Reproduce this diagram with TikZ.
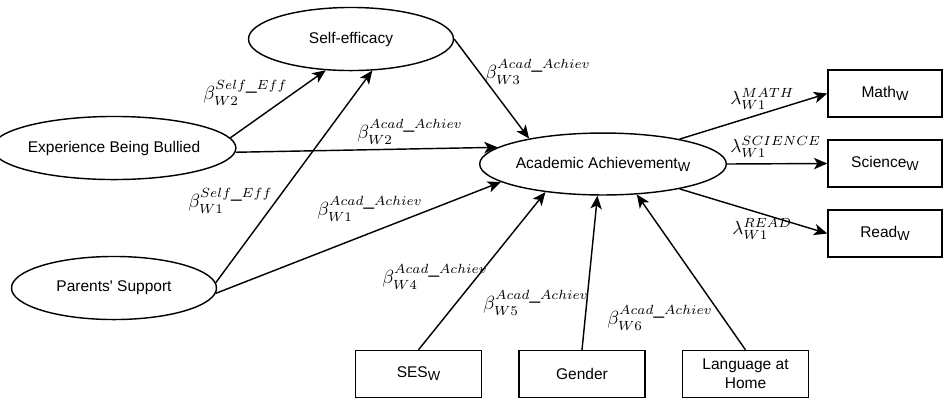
\documentclass[tikz,border=0pt]{standalone}
\usepackage[no-math]{fontspec}
\setmainfont{Liberation Sans}
\usetikzlibrary{arrows.meta,shapes.geometric}
\newcommand{\subW}{\raisebox{-0.35ex}{\fontsize{6.9}{8}\selectfont W}}
\begin{document}
\begin{tikzpicture}[x=0.5263pt,y=-0.5263pt,
  lat/.style={draw, ellipse, line width=0.75pt, minimum width=107.9pt, minimum height=33.2pt, inner sep=0pt, font=\fontsize{8.16}{9.8}\selectfont},
  obs/.style={draw, rectangle, line width=0.75pt, minimum width=66.3pt, minimum height=24.7pt, inner sep=0pt, align=center, font=\fontsize{8.16}{9.8}\selectfont},
  ind/.style={obs, minimum width=60pt},
  conn/.style={line width=0.75pt, -{Stealth[length=7pt,width=6pt,inset=1.8pt]}},
  lab/.style={inner sep=0pt, anchor=west, font=\normalsize}
]
\fill[white] (0,0) rectangle (944,400);
\useasboundingbox (0,0) rectangle (944,400);

\node[lat] (se) at (351,39) {Self-efficacy};
\node[lat] (exp) at (114,148) {Experience Being Bullied};
\node[lat] (par) at (114,288) {Parents\textquotesingle\ Support};
\node[lat, minimum width=107.4pt, minimum height=32.6pt] (aa) at (603,164) {Academic Achievement\subW};

\node[ind] (math) at (885,93.5) {Math\subW};
\node[ind] (sci) at (885,163.5) {Science\subW};
\node[ind] (read) at (885,233.5) {Read\subW};

\node[obs] (ses) at (418.5,374) {SES\subW};
\node[obs] (gen) at (582,374) {Gender};
\node[obs] (lang) at (745.5,374) {Language at\\Home};

\draw[conn] (exp.5) -- (se.231);
\draw[conn] (par.3) -- (se.304);
\draw[conn] (exp.-2) -- (aa.171);
\draw[conn] (par.-3) -- (aa.190);
\draw[conn] (se.east) -- (aa.161);
\draw[conn] (ses.north) -- (aa.206);
\draw[conn] (gen.north) -- (aa.260);
\draw[conn] (lang.north) -- (aa.318);
\draw[conn] (aa.18) -- (math.west);
\draw[conn] (aa.east) -- (sci.west);
\draw[conn] (aa.-18) -- (read.west);

\node[lab] (l1) at (203,93) {$\beta^{Self\_Eff}_{W2}$};
\node[lab] (l2) at (357,132) {$\beta^{Acad\_Achiev}_{W2}$};
\node[lab] (l3) at (485,72) {$\beta^{Acad\_Achiev}_{W3}$};
\node[lab] (l4) at (188,201) {$\beta^{Self\_Eff}_{W1}$};
\node[lab] (l5) at (317,209) {$\beta^{Acad\_Achiev}_{W1}$};
\node[lab] (l6) at (382,277) {$\beta^{Acad\_Achiev}_{W4}$};
\node[lab] (l7) at (483,303) {$\beta^{Acad\_Achiev}_{W5}$};
\node[lab] (l8) at (607,318) {$\beta^{Acad\_Achiev}_{W6}$};
\node[lab] (l9) at (730,99) {$\lambda^{MATH}_{W1}$};
\node[lab] (l10) at (730,147) {$\lambda^{SCIENCE}_{W1}$};
\node[lab] (l11) at (732,229) {$\lambda^{READ}_{W1}$};
\end{tikzpicture}
\end{document}
